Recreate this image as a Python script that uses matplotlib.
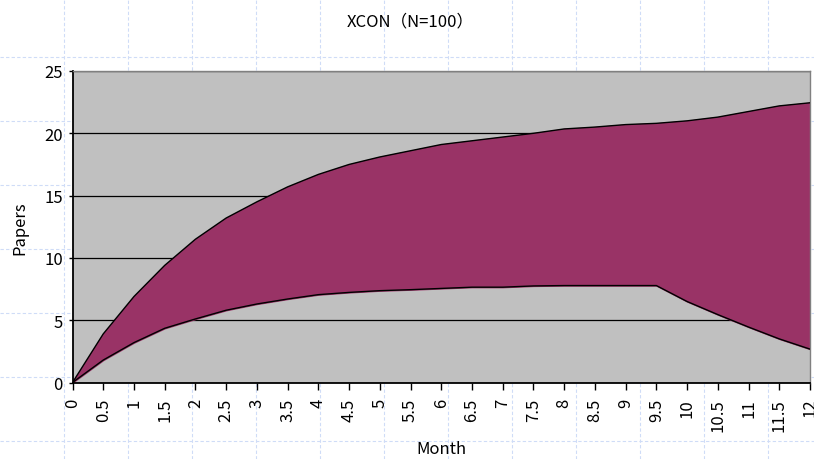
import matplotlib
matplotlib.use("Agg")
import matplotlib.pyplot as plt
from matplotlib.lines import Line2D

plt.rcParams['font.family'] = ['Noto Sans CJK JP', 'DejaVu Sans']

# data
months = [0, 0.5, 1, 1.5, 2, 2.5, 3, 3.5, 4, 4.5, 5, 5.5, 6, 6.5, 7, 7.5, 8,
          8.5, 9, 9.5, 10, 10.5, 11, 11.5, 12]
upper = [0, 3.9, 6.9, 9.4, 11.5, 13.2, 14.5, 15.7, 16.7, 17.5, 18.1, 18.6, 19.1,
         19.4, 19.7, 20.0, 20.35, 20.5, 20.7, 20.8, 21.0, 21.3, 21.75, 22.2, 22.45]
lower = [0, 1.8, 3.2, 4.35, 5.1, 5.8, 6.3, 6.7, 7.05, 7.23, 7.37, 7.45, 7.55,
         7.65, 7.65, 7.75, 7.78, 7.78, 7.78, 7.78, 6.5, 5.45, 4.45, 3.5, 2.68]
xticks = months
xlabels = ['0' if m == 0 else ('%g' % m) for m in months]
yticks = [0, 5, 10, 15, 20, 25]

W, H = 814, 460
fig = plt.figure(figsize=(W / 100, H / 100), dpi=100)
fig.patch.set_facecolor('white')

# graph-paper background
gc = '#cfdcf7'
for px in range(64, W, 64):
    fig.add_artist(Line2D([px / W, px / W], [0, 1], color=gc, lw=0.8,
                          ls=(0, (3, 2)), zorder=0))
for py in range(58, H, 64):
    fig.add_artist(Line2D([0, 1], [1 - py / H, 1 - py / H], color=gc, lw=0.8,
                          ls=(0, (3, 2)), zorder=0))

ax = fig.add_axes([72.5 / W, 1 - 383.5 / H, (810 - 72.5) / W, (383.5 - 72) / H])
ax.set_facecolor('#c0c0c0')
ax.fill_between(months, lower, upper, color='#993366', zorder=2)
ax.plot(months, upper, color='black', lw=1, zorder=3)
ax.plot(months, lower, color='black', lw=1, zorder=3)

ax.set_xlim(0, 12)
ax.set_ylim(0, 25)
ax.set_yticks(yticks)
ax.set_yticklabels([str(v) for v in yticks], fontsize=12)
ax.set_xticks(xticks)
ax.set_xticklabels(xlabels, rotation=90, fontsize=12)
ax.yaxis.grid(True, color='black', lw=0.9, zorder=1)
ax.set_axisbelow(True)
ax.tick_params(axis='x', direction='out', length=5, width=1, pad=6)
ax.tick_params(axis='y', direction='out', length=3, width=1, pad=4)

for s in ['left', 'bottom']:
    ax.spines[s].set_color('black')
    ax.spines[s].set_linewidth(1.3)
for s in ['top', 'right']:
    ax.spines[s].set_color('#808080')
    ax.spines[s].set_linewidth(1.0)

fig.text(410 / W, 1 - 22 / H, 'XCON（N=100）', ha='center', va='center', fontsize=12)
fig.text(20 / W, 1 - 228 / H, 'Papers', ha='center', va='center', rotation=90, fontsize=12)
fig.text(441 / W, 1 - 450 / H, 'Month', ha='center', va='center', fontsize=12)

fig.savefig('out.png', dpi=100)
